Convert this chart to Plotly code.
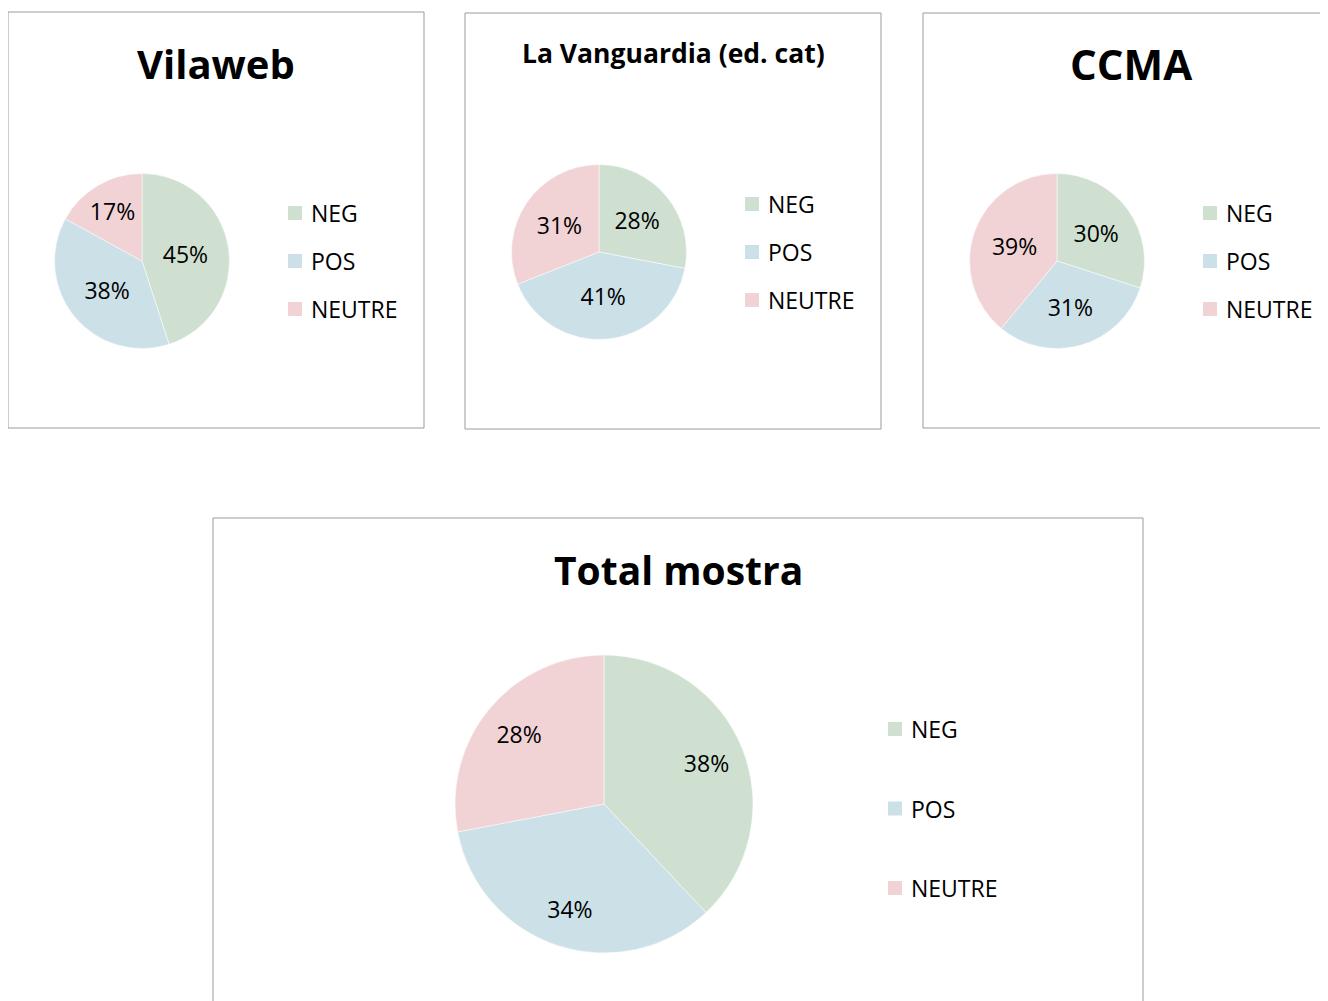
import plotly.graph_objects as go

# page body has an 8px margin, so the figure is drawn 8px in from the top-left
OFF = 8
W, H = 1320, 993

# ---- data ----
categories = ["NEG", "POS", "NEUTRE"]
colors = ["#CFE0D1", "#CCE0E7", "#F1D3D5"]
chart_titles = ["Vilaweb", "La Vanguardia (ed. cat)", "CCMA", "Total mostra"]
vilaweb = [45, 38, 17]
vanguardia = [28, 41, 31]
ccma = [30, 31, 39]
total = [38, 34, 28]
series = [vilaweb, vanguardia, ccma, total]

# ---- layout (pixel positions in the page) ----
boxes = [(8, 12, 424, 428), (465, 13, 881, 429), (923, 13, 1345, 428), (213, 518, 1143, 1015)]
pie_c = [(142, 261, 87.5), (599, 252, 87.5), (1057, 261, 87.5), (604, 804, 149)]
label_hole = [None, None, None, 0.48]   # Total pie: labels sit further out
title_pos = [(216, 63, 40), (673, 53, 26.5), (1131, 63, 42), (678, 569, 39)]
leg_pos = [(288, 213, 48), (745, 204, 48), (1203, 213, 48), (888, 729, 79.5)]

FONT = "Open Sans"

def px(x):
    return (x - OFF) / W

def py(y):
    return 1 - (y - OFF) / H

fig = go.Figure()
shapes = []
annotations = []

for i, vals in enumerate(series):
    cx, cy, r = pie_c[i]
    dom = dict(x=[px(cx - r), px(cx + r)], y=[py(cy + r), py(cy - r)])
    hole = label_hole[i]
    fig.add_trace(go.Pie(
        labels=categories,
        values=vals,
        sort=False,
        direction="clockwise",
        rotation=0,
        marker=dict(colors=colors, line=dict(color="white", width=0.5)),
        texttemplate="%{value}%" if hole is None else "",
        textposition="inside" if hole is None else "none",
        insidetextorientation="horizontal",
        textfont=dict(family=FONT, size=23, color="black"),
        domain=dom,
        showlegend=False,
        hoverinfo="label+value",
        name=chart_titles[i],
    ))
    if hole is not None:
        fig.add_trace(go.Pie(
            labels=categories,
            values=vals,
            sort=False,
            direction="clockwise",
            rotation=0,
            hole=hole,
            marker=dict(colors=["rgba(0,0,0,0)"] * len(vals), line=dict(width=0)),
            texttemplate="%{value}%",
            textposition="inside",
            insidetextorientation="horizontal",
            textfont=dict(family=FONT, size=23, color="black"),
            domain=dom,
            showlegend=False,
            hoverinfo="skip",
        ))
    x0, y0, x1, y1 = boxes[i]
    shapes.append(dict(type="rect", xref="paper", yref="paper",
                       x0=px(x0), x1=px(x1), y0=py(y1), y1=py(y0),
                       line=dict(color="#9B9B9B", width=1), fillcolor="rgba(0,0,0,0)", layer="below"))
    tx, ty, ts = title_pos[i]
    annotations.append(dict(text="<b>%s</b>" % chart_titles[i], xref="paper", yref="paper",
                            x=px(tx), y=py(ty), xanchor="center", yanchor="middle",
                            showarrow=False, font=dict(family=FONT, size=ts, color="black")))
    lx, ly, gap = leg_pos[i]
    for j, cat in enumerate(categories):
        yy = ly + j * gap
        shapes.append(dict(type="rect", xref="paper", yref="paper",
                           x0=px(lx), x1=px(lx + 14), y0=py(yy + 7), y1=py(yy - 7),
                           line=dict(width=0), fillcolor=colors[j]))
        annotations.append(dict(text=cat, xref="paper", yref="paper",
                                x=px(lx + 21), y=py(yy), xanchor="left", yanchor="middle",
                                showarrow=False, font=dict(family=FONT, size=23, color="black")))

fig.update_layout(
    width=W, height=H,
    margin=dict(l=0, r=0, t=0, b=0),
    paper_bgcolor="white", plot_bgcolor="white",
    shapes=shapes, annotations=annotations,
    showlegend=False,
)

fig.write_html("out.html")
